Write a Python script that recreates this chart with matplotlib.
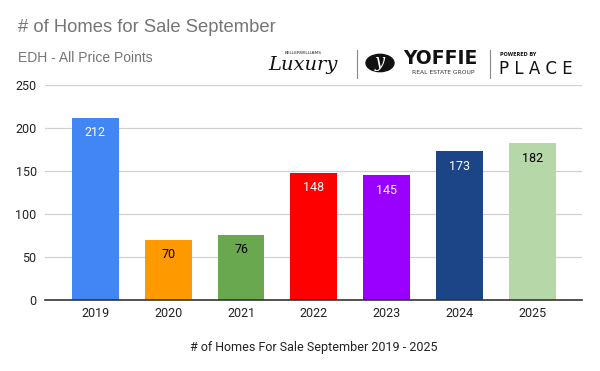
import matplotlib
matplotlib.use("Agg")
import matplotlib.pyplot as plt
from matplotlib.patches import Circle
from matplotlib.lines import Line2D

years = ["2019", "2020", "2021", "2022", "2023", "2024", "2025"]
homes = [212, 70, 76, 148, 145, 173, 182]
colors = ["#4285F4", "#FF9900", "#6AA84F", "#FF0000", "#9900FF", "#1C4587", "#B6D7A8"]
label_colors = ["white", "black", "black", "white", "white", "white", "black"]
yticks = [0, 50, 100, 150, 200, 250]

W, H = 600, 371
fig = plt.figure(figsize=(W / 100, H / 100), dpi=100)
ax = fig.add_axes([45 / W, 1 - 300 / H, 537 / W, 215 / H])

x = list(range(len(years)))
bars = ax.bar(x, homes, width=0.645, color=colors, zorder=3)
for b, v, c in zip(bars, homes, label_colors):
    ax.annotate(str(v), (b.get_x() + b.get_width() / 2, v), xytext=(0, -6),
                textcoords="offset points", ha="center", va="top",
                fontsize=9, color=c, family="Roboto", zorder=4)

ax.set_xlim(-0.69, 6.68)
ax.set_ylim(0, 250)
ax.set_xticks(x)
ax.set_xticklabels(years)
ax.set_yticks(yticks)
ax.grid(axis="y", color="#D0D0D0", linewidth=0.9, zorder=0)
for s in ["top", "right", "left"]:
    ax.spines[s].set_visible(False)
ax.spines["bottom"].set_color("#333333")
ax.spines["bottom"].set_linewidth(1.2)
ax.spines["bottom"].set_zorder(5)
ax.tick_params(axis="both", length=0, labelsize=9, colors="#222222")
ax.tick_params(axis="x", pad=5)
ax.tick_params(axis="y", pad=6)
for lab in ax.get_xticklabels() + ax.get_yticklabels():
    lab.set_family("Roboto")
ax.set_xlabel("# of Homes For Sale September 2019 - 2025", fontsize=9,
              family="Roboto", color="#222222", labelpad=15)

# title block
fig.text(18 / W, 1 - 28 / H, "# of Homes for Sale September", fontsize=13.2,
         family="Liberation Sans", color="#757575", va="center", ha="left")
fig.text(18 / W, 1 - 58 / H, "EDH - All Price Points", fontsize=10,
         family="Liberation Sans", color="#757575", va="center", ha="left")

# logo block (text approximation)
fig.text(303 / W, 1 - 53 / H, "KELLERWILLIAMS", fontsize=3.2, color="#222222",
         family="DejaVu Sans", ha="center", va="center")
fig.text(303 / W, 1 - 65 / H, "Luxury", fontsize=14, color="#111111",
         family="DejaVu Serif", style="italic", ha="center", va="center")
fig.add_artist(Line2D([357 / W, 357 / W], [1 - 50 / H, 1 - 78 / H], color="#888888", lw=0.8))
fig.add_artist(Circle((380 / W, 1 - 63 / H), 14 / W, transform=fig.transFigure,
                      color="#111111"))
fig.text(380 / W, 1 - 62 / H, "y", fontsize=13, color="white", family="DejaVu Serif",
         style="italic", ha="center", va="center")
fig.text(440 / W, 1 - 59 / H, "YOFFIE", fontsize=13.5, color="#111111",
         family="DejaVu Sans", weight="bold", ha="center", va="center")
fig.text(443 / W, 1 - 73 / H, "REAL ESTATE GROUP", fontsize=4.3, color="#333333",
         family="DejaVu Sans", ha="center", va="center")
fig.add_artist(Line2D([490 / W, 490 / W], [1 - 50 / H, 1 - 78 / H], color="#888888", lw=0.8))
fig.text(500 / W, 1 - 55 / H, "POWERED BY", fontsize=3.5, color="#111111",
         family="DejaVu Sans", weight="bold", ha="left", va="center")
fig.text(499 / W, 1 - 69 / H, "P L A C E", fontsize=12, color="#111111",
         family="DejaVu Sans", ha="left", va="center")

fig.savefig("out.png", dpi=100)
